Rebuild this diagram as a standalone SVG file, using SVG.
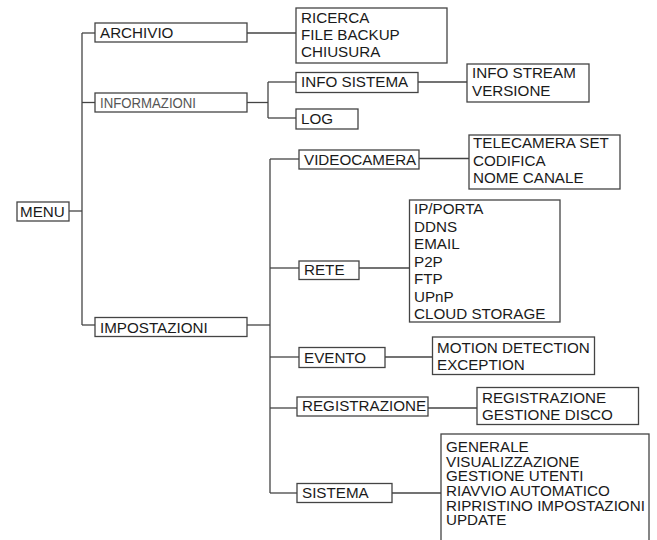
<svg xmlns="http://www.w3.org/2000/svg" width="657" height="540" viewBox="0 0 657 540">
<style>
.b{fill:#fff;stroke:#444;stroke-width:1.3}
.t{font-family:"Liberation Sans",Arial,sans-serif;font-size:15.2px;fill:#1a1a1a}
.c line{stroke:#444;stroke-width:1.3}
</style>
<rect width="657" height="540" fill="#fff"/>
<g class="c" id="connectors">
<line x1="82" y1="33" x2="82" y2="325"/>
<line x1="82" y1="33" x2="95" y2="33"/>
<line x1="82" y1="102.5" x2="95" y2="102.5"/>
<line x1="69" y1="211" x2="82" y2="211"/>
<line x1="82" y1="325" x2="95" y2="325"/>
<line x1="247" y1="33" x2="296" y2="33"/>
<line x1="247" y1="102.5" x2="268" y2="102.5"/>
<line x1="268" y1="82" x2="268" y2="118"/>
<line x1="268" y1="82" x2="296" y2="82"/>
<line x1="268" y1="118" x2="296" y2="118"/>
<line x1="418" y1="82" x2="467" y2="82"/>
<line x1="247" y1="325" x2="270" y2="325"/>
<line x1="270" y1="159" x2="270" y2="493"/>
<line x1="270" y1="159" x2="299" y2="159"/>
<line x1="270" y1="268" x2="299" y2="268"/>
<line x1="270" y1="357" x2="299" y2="357"/>
<line x1="270" y1="408" x2="297" y2="408"/>
<line x1="270" y1="493" x2="297" y2="493"/>
<line x1="419" y1="158.5" x2="469" y2="158.5"/>
<line x1="359" y1="268" x2="409" y2="268"/>
<line x1="385" y1="357" x2="432" y2="357"/>
<line x1="428" y1="408" x2="477" y2="408"/>
<line x1="392" y1="493" x2="441" y2="493"/>
</g>
<g id="menu"><rect class="b" x="17" y="202" width="52" height="19"/><text class="t" x="20" y="217">MENU</text></g>
<g id="archivio"><rect class="b" x="95" y="23" width="152" height="19"/><text class="t" x="100" y="37.5">ARCHIVIO</text></g>
<g id="archivio-sub"><rect class="b" x="296" y="8" width="151" height="55"/>
<text class="t" x="301" y="22.7">RICERCA</text><text class="t" x="301" y="40">FILE BACKUP</text><text class="t" x="301" y="57.3">CHIUSURA</text></g>
<g id="informazioni"><rect class="b" x="95" y="93" width="152" height="19"/><text class="t" x="100" y="108.3" textLength="96" lengthAdjust="spacingAndGlyphs" style="fill:#555">INFORMAZIONI</text></g>
<g id="info-sistema"><rect class="b" x="296" y="72.5" width="122" height="20"/><text class="t" x="301" y="87.3">INFO SISTEMA</text></g>
<g id="info-sistema-sub"><rect class="b" x="467" y="64" width="122" height="38"/>
<text class="t" x="472" y="78.3">INFO STREAM</text><text class="t" x="472" y="95.7">VERSIONE</text></g>
<g id="log"><rect class="b" x="296" y="109" width="62" height="20"/><text class="t" x="301" y="123.5">LOG</text></g>
<g id="impostazioni"><rect class="b" x="95" y="317.5" width="152" height="19"/><text class="t" x="100" y="333">IMPOSTAZIONI</text></g>
<g id="videocamera"><rect class="b" x="299" y="150" width="120" height="19"/><text class="t" x="304" y="164.5">VIDEOCAMERA</text></g>
<g id="videocamera-sub"><rect class="b" x="469" y="135" width="151" height="54"/>
<text class="t" x="473" y="148.3">TELECAMERA SET</text><text class="t" x="473" y="165.7">CODIFICA</text><text class="t" x="473" y="183.3">NOME CANALE</text></g>
<g id="rete"><rect class="b" x="299" y="261" width="60" height="18.5"/><text class="t" x="304" y="274.5">RETE</text></g>
<g id="rete-sub"><rect class="b" x="409.5" y="200" width="150.5" height="122"/>
<text class="t" x="414" y="214">IP/PORTA</text><text class="t" x="414" y="231.5">DDNS</text><text class="t" x="414" y="249">EMAIL</text><text class="t" x="414" y="266.5">P2P</text><text class="t" x="414" y="284">FTP</text><text class="t" x="414" y="301.5">UPnP</text><text class="t" x="414" y="319">CLOUD STORAGE</text></g>
<g id="evento"><rect class="b" x="299" y="347.5" width="86" height="20"/><text class="t" x="304" y="362.5">EVENTO</text></g>
<g id="evento-sub"><rect class="b" x="432.5" y="337" width="162" height="37.5"/>
<text class="t" x="437" y="352.7">MOTION DETECTION</text><text class="t" x="437" y="370">EXCEPTION</text></g>
<g id="registrazione"><rect class="b" x="297" y="397" width="131" height="19"/><text class="t" x="302" y="411.3">REGISTRAZIONE</text></g>
<g id="registrazione-sub"><rect class="b" x="477" y="387.5" width="161.5" height="37"/>
<text class="t" x="482" y="402.7">REGISTRAZIONE</text><text class="t" x="482" y="420">GESTIONE DISCO</text></g>
<g id="sistema"><rect class="b" x="297" y="483.5" width="95" height="19"/><text class="t" x="302" y="498">SISTEMA</text></g>
<g id="sistema-sub"><rect class="b" x="441" y="434" width="208" height="120"/>
<text class="t" x="446" y="451.7">GENERALE</text><text class="t" x="446" y="466.5">VISUALIZZAZIONE</text><text class="t" x="446" y="481.2">GESTIONE UTENTI</text><text class="t" x="446" y="496">RIAVVIO AUTOMATICO</text><text class="t" x="446" y="510.7">RIPRISTINO IMPOSTAZIONI</text><text class="t" x="446" y="525.4">UPDATE</text></g>
</svg>
